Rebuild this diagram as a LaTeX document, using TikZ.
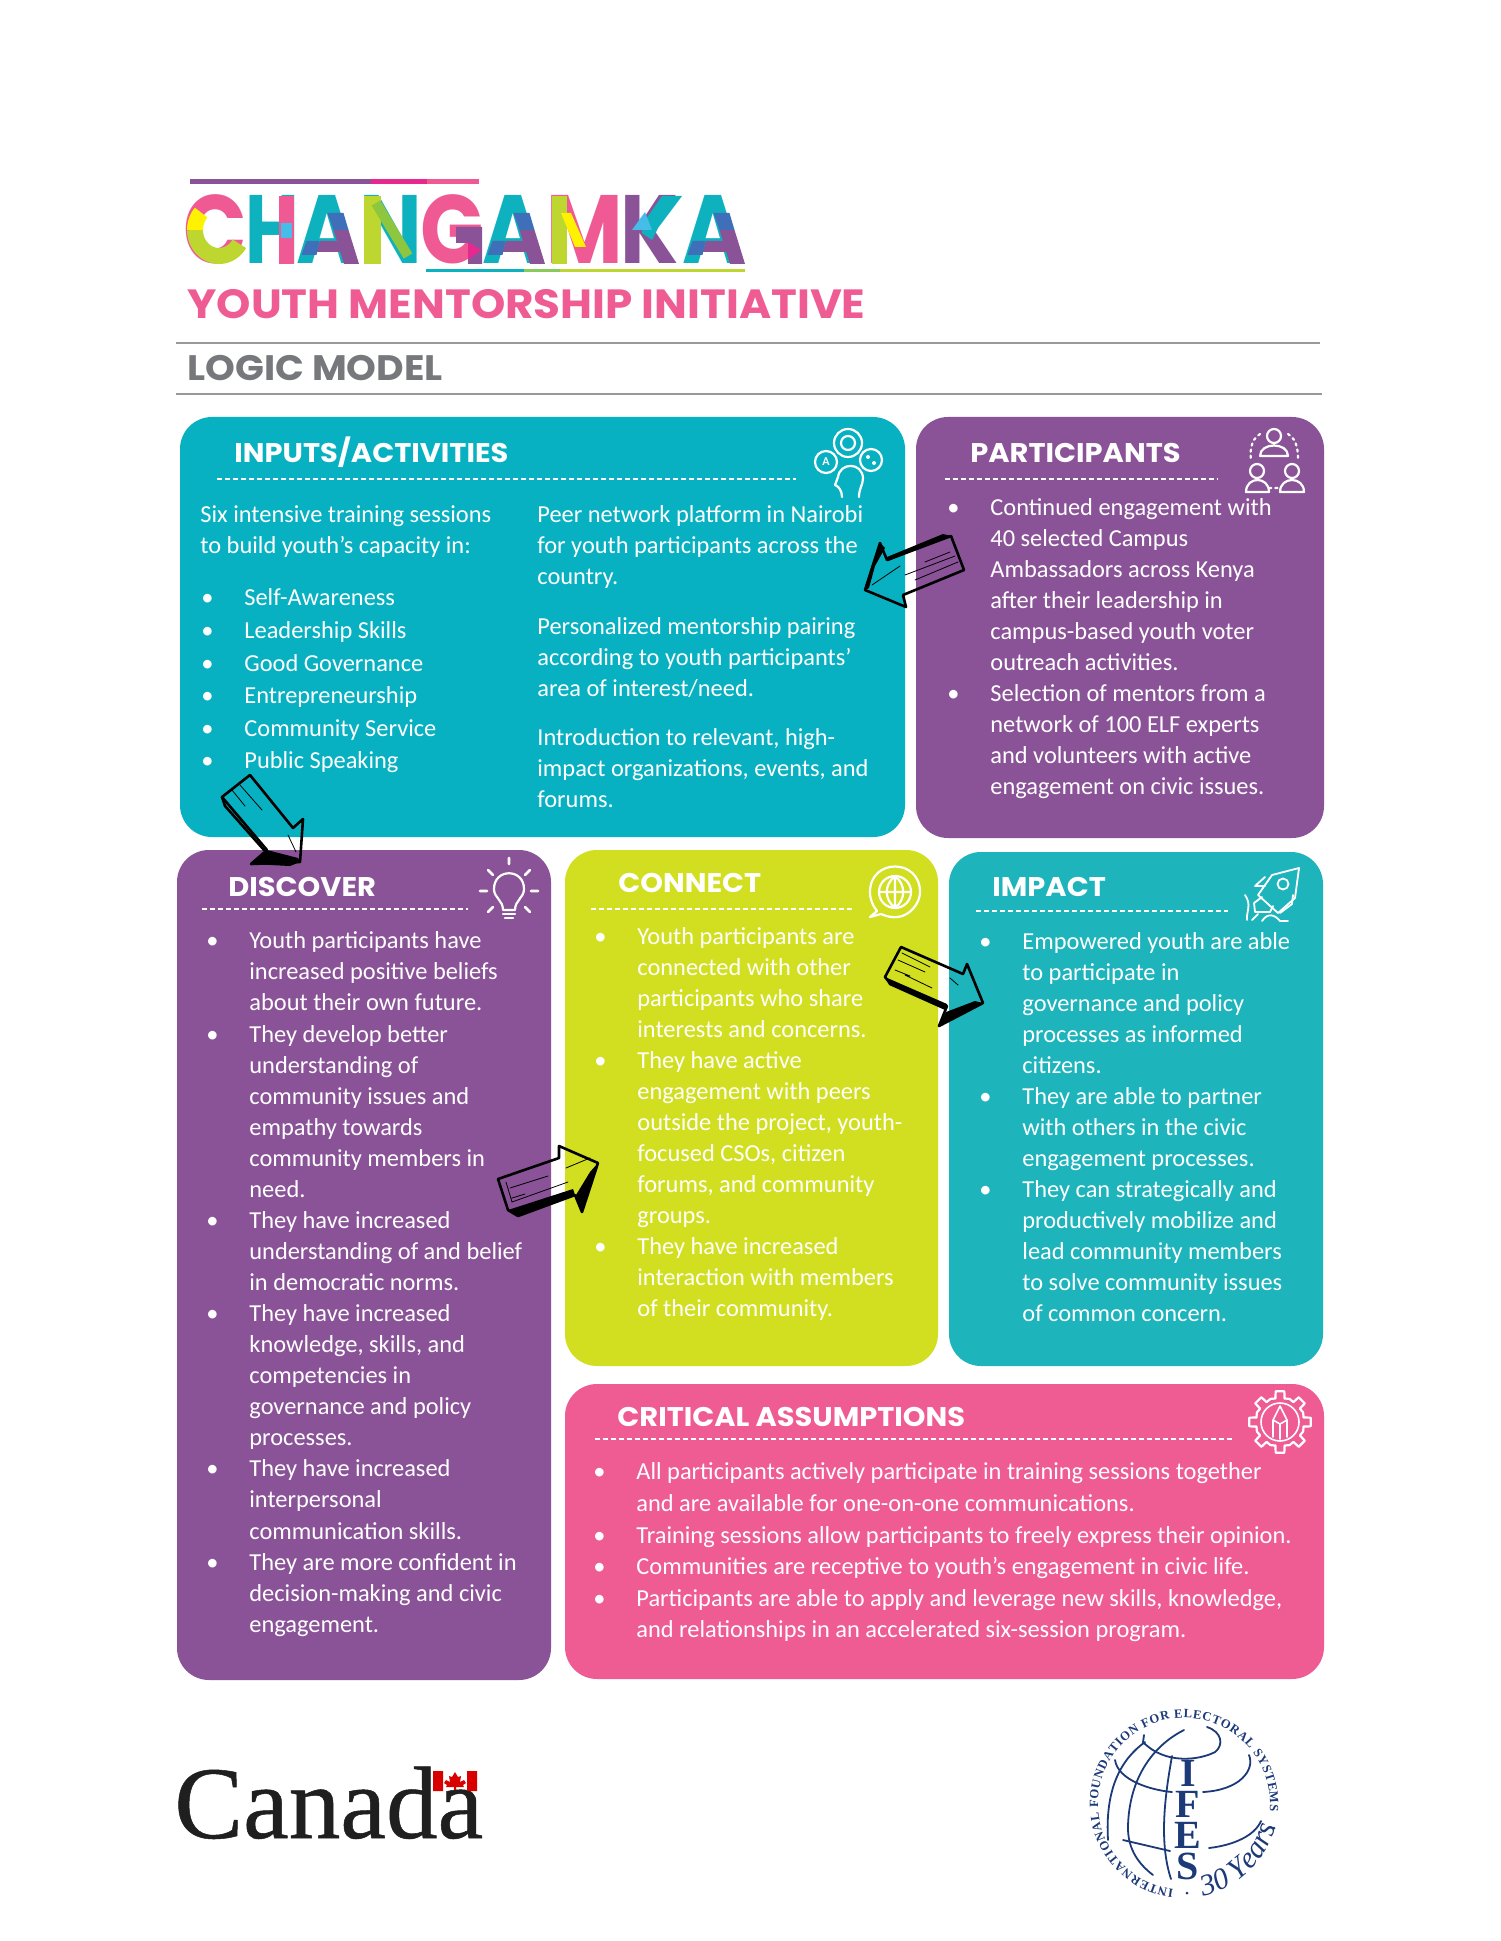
\documentclass[tikz,border=0pt]{standalone}
\usepackage{fontspec}
\usepackage{graphicx}
\usetikzlibrary{decorations.text}
\setmainfont{Carlito}
\newfontfamily\headfont{Poppins}[FakeStretch=1.07]
\newfontfamily\logofont{Poppins}[FakeStretch=0.86]
\newfontfamily\serifring{Liberation Serif}
\newfontfamily\canadafont{Liberation Serif}[FakeBold=0.5]
\definecolor{cteal}{HTML}{08B1C1}
\definecolor{cimpact}{HTML}{1DB4BC}
\definecolor{cpurple}{HTML}{8A5398}
\definecolor{clime}{HTML}{D2DF20}
\definecolor{cpink}{HTML}{EF5B93}
\definecolor{lgpink}{HTML}{EF5A94}
\definecolor{lgteal}{HTML}{0DB2BE}
\definecolor{lglime}{HTML}{BDD630}
\definecolor{lggreen}{HTML}{8EC63F}
\definecolor{lgblue}{HTML}{3F6FB8}
\definecolor{lgsky}{HTML}{45BDE8}
\definecolor{lgmag}{HTML}{E6288F}
\definecolor{lgyel}{HTML}{FFF200}
\definecolor{ifes}{HTML}{1C3A78}
\definecolor{cgrey}{HTML}{77787B}
\newcommand{\bul}{\makebox[0pt][r]{\textbullet\hspace{15.5pt}}}
% colour pieces of a logo A: centre x, right foot x
\newcommand{\logoApiece}[2]{%
  \fill[cpurple] ({#1+5},230) -- ({#1+20},230) -- ({#2-1},264) -- ({#2-16},264) -- ({#1+11.8},252) -- ({#1-11.8},252) -- ({#1-8.4},241) -- ({#1+8.4},241) -- cycle;
  \fill[lgblue] ({#1+5},230) -- ({#1+20},230) -- ({#1+15},213) -- ({#1-1},213) -- cycle;
  \fill[lgblue] ({#1-9},241) -- ({#1-22},241) -- ({#1-27},255) -- ({#1-12},255) -- cycle;}
\tikzset{
  panel/.style={rounded corners=16pt},
  body/.style={anchor=north west,inner sep=0pt,align=left,text=white,font=\fontsize{12.2pt}{15.5pt}\selectfont,execute at begin node={\rule{0pt}{8pt}}},
  title/.style={anchor=base west,inner sep=0pt,text=white,font=\headfont\bfseries\fontsize{13.5pt}{15pt}\selectfont},
  dashrule/.style={white,line width=0.75pt,dash pattern=on 2.6pt off 1.4pt},
  ico/.style={white,line width=1.1pt,line cap=round,line join=round},
  sk/.style={black,line width=1.3pt,line join=round,line cap=round},
  skthin/.style={black,line width=0.4pt,line cap=round},
}
\begin{document}
\begin{tikzpicture}[x=0.5pt,y=-0.5pt]
\useasboundingbox (0,0) rectangle (1500,1941);
\fill[white] (0,0) rectangle (1500,1941);
% ---------- logo
\fill[cpurple] (190,179) rectangle (371,184);
\fill[lgmag] (371,179) rectangle (427,184);
\fill[lgpink] (427,179) rectangle (479,184);
\node[anchor=base west,inner sep=0pt,font=\logofont\bfseries\fontsize{48.5pt}{50pt}\selectfont] (logo) at (183,264)
 {\makebox[31pt][l]{\textcolor{lgpink}{C}}\makebox[25.5pt][l]{\textcolor{lgteal}{\scalebox{0.88}[1]{H}}}\makebox[31.5pt][l]{\textcolor{lgteal}{A}}\makebox[30.5pt][l]{\textcolor{lgteal}{N}}\makebox[31pt][l]{\textcolor{lgpink}{G}}\makebox[32pt][l]{\textcolor{lgteal}{A}}\makebox[37pt][l]{\textcolor{lgpink}{M}}\makebox[31pt][l]{\textcolor{cpurple}{K}}\textcolor{lgteal}{A}};
% C
\draw[lglime,line width=8pt] plot[domain=32:180,samples=30] ({219+24*cos(\x)},{230+26*sin(\x)});
\draw[lgyel,line width=8pt] plot[domain=180:222,samples=12] ({219+24*cos(\x)},{230+26*sin(\x)});
% H
\fill[lgpink] (279,196) rectangle (294,264);
\fill[lgsky] (281,223) rectangle (292,238);
% A pieces
\logoApiece{328.5}{360}
\logoApiece{514.5}{546}
\logoApiece{714.5}{746}
% N
\fill[lglime] (364,196) rectangle (381,264);
\draw[lggreen,line width=5pt] (376,203) -- (408,256);
% G
\fill[cpurple] (456,227) -- (482,227) -- (482,264) -- (468,264) -- (468,243) -- (456,243) -- cycle;
\fill[lgmag] (468,242) -- (481,250) -- (468,260) -- cycle;
% M
\fill[lglime] (552,196) rectangle (567,264);
\fill[lgyel] (561,213) -- (571,213) -- (586,247) -- (575,247) -- cycle;
% K
\fill[lgteal] (642,233) -- (642,225) -- (662,196) -- (682,196) -- (658,228) -- (652,240) -- cycle;
\fill[lgsky] (632,230) -- (645,212) -- (652,230) -- cycle;
\fill[lgteal] (426,269.5) rectangle (524,272);
\fill[lglime!70!lgteal] (524,269.5) rectangle (560,272);
\fill[lglime] (560,269.5) rectangle (745,272);
% ---------- headings
\node[anchor=base west,inner sep=0pt,text=cpink,font=\headfont\bfseries\fontsize{20.4pt}{22pt}\selectfont] (sub) at (187,319) {YOUTH MENTORSHIP INITIATIVE};
\node[anchor=base west,inner sep=0pt,text=cgrey,font=\headfont\bfseries\fontsize{17.7pt}{20pt}\selectfont] (lm) at (187,381) {LOGIC MODEL};
\draw[black!40,line width=1pt] (176,343) -- (1320,343);
\draw[black!40,line width=1pt] (176,394) -- (1322,394);
% ---------- panels
\fill[panel,cteal] (180,417) rectangle (905,837);
\fill[panel,cpurple] (916,417) rectangle (1324,838);
\fill[panel,cpurple] (177,850) rectangle (551,1680);
\fill[panel,clime] (565,850) rectangle (938,1366);
\fill[panel,cimpact] (949,852) rectangle (1323,1366);
\fill[panel,cpink] (565,1384) rectangle (1324,1679);
% ---------- titles
\node[title] (t1) at (234,463) {INPUTS/ACTIVITIES};
\node[title] (t2) at (970,462) {PARTICIPANTS};
\node[title] (t3) at (228,896) {DISCOVER};
\node[title] (t4) at (618,892) {CONNECT};
\node[title] (t5) at (992,896) {IMPACT};
\node[title] (t6) at (617,1426) {CRITICAL ASSUMPTIONS};
\draw[dashrule] (217,479) -- (796,479);
\draw[dashrule] (945,479) -- (1218,479);
\draw[dashrule] (202,909) -- (468,909);
\draw[dashrule] (591,909) -- (854,909);
\draw[dashrule] (976,911) -- (1228,911);
\draw[dashrule] (595,1439) -- (1233,1439);
% ---------- body text
\node[body] (in1) at (200,505.5) {Six intensive training sessions\\to build youth’s capacity in:};
\node[body,font=\fontsize{12.2pt}{16.3pt}\selectfont] (in2) at (244,588.5) {\bul Self-Awareness\\\bul Leadership Skills\\\bul Good Governance\\\bul Entrepreneurship\\\bul Community Service\\\bul Public Speaking};
\node[body] (in3) at (537,505.5) {Peer network platform in Nairobi\\for youth participants across the\\country.};
\node[body] (in4) at (537,617.5) {Personalized mentorship pairing\\according to youth participants’\\area of interest/need.};
\node[body] (in5) at (537,728.5) {Introduction to relevant, high-\\impact organizations, events, and\\forums.};
\node[body] (pa) at (990,498) {\bul Continued engagement with\\40 selected Campus\\Ambassadors across Kenya\\after their leadership in\\campus-based youth voter\\outreach activities.\\\bul Selection of mentors from a\\network of 100 ELF experts\\and volunteers with active\\engagement on civic issues.};
\node[body,font=\fontsize{12.2pt}{15.53pt}\selectfont] (di) at (249,931.5) {\bul Youth participants have\\increased positive beliefs\\about their own future.\\\bul They develop better\\understanding of\\community issues and\\empathy towards\\community members in\\need.\\\bul They have increased\\understanding of and belief\\in democratic norms.\\\bul They have increased\\knowledge, skills, and\\competencies in\\governance and policy\\processes.\\\bul They have increased\\interpersonal\\communication skills.\\\bul They are more confident in\\decision-making and civic\\engagement.};
\node[body] (co) at (637,927.5) {\bul Youth participants are\\connected with other\\participants who share\\interests and concerns.\\\bul They have active\\engagement with peers\\outside the project, youth-\\focused CSOs, citizen\\forums, and community\\groups.\\\bul They have increased\\interaction with members\\of their community.};
\node[body] (im) at (1022,932.5) {\bul Empowered youth are able\\to participate in\\governance and policy\\processes as informed\\citizens.\\\bul They are able to partner\\with others in the civic\\engagement processes.\\\bul They can strategically and\\productively mobilize and\\lead community members\\to solve community issues\\of common concern.};
\node[body,font=\fontsize{12.2pt}{15.8pt}\selectfont] (cr) at (636,1462.5) {\bul All participants actively participate in training sessions together\\and are available for one-on-one communications.\\\bul Training sessions allow participants to freely express their opinion.\\\bul Communities are receptive to youth’s engagement in civic life.\\\bul Participants are able to apply and leverage new skills, knowledge,\\and relationships in an accelerated six-session program.};
% ---------- arrow Participants to Inputs
\draw[sk] (887,560) -- (951,536) -- (964,570) -- (903,595) -- (906,607) -- (865,590) -- (880,543) -- cycle;
\fill[black] (880,543) -- (872,565) -- (865,590) -- (869,588) -- (875,566) -- (885,548) -- cycle;
\fill[black] (887,557) -- (943,534) -- (951,536) -- (888,561) -- cycle;
\draw[skthin] (905,575) -- (955,556) (915,580) -- (958,562) (925,562) -- (950,552) (872,585) -- (900,566);
% ---------- arrow Inputs to Discover
\draw[sk] (250,775) -- (222,797) -- (267,850) -- (251,864) -- (300,862) -- (303,819) -- (293,828) -- cycle;
\fill[black] (267,850) -- (298,858) -- (300,862) -- (290,866) -- (251,864) -- cycle;
\draw[sk] (222,797) -- (225,806) -- (264,850);
\draw[skthin] (232,790) -- (245,806) (240,785) -- (262,810) (262,790) -- (285,818) (288,835) -- (296,852);
% ---------- arrow Discover to Connect
\draw[sk] (498,1179) -- (559,1158) -- (559,1146) -- (598,1163) -- (582,1212) -- (575,1195) -- (518,1216) -- (508,1210) -- cycle;
\fill[black] (508,1210) -- (518,1216) -- (575,1195) -- (573,1189) -- cycle;
\fill[black] (598,1163) -- (582,1212) -- (576,1195) -- (590,1172) -- cycle;
\draw[skthin] (506,1182) -- (512,1202) -- (568,1182) (510,1188) -- (548,1176) (512,1198) -- (525,1194) (566,1168) -- (590,1158);
% ---------- arrow Connect to Impact
\draw[sk] (901,947) -- (963,974) -- (967,964) -- (983,1003) -- (939,1026) -- (947,1006) -- (889,982) -- (885,977) -- cycle;
\fill[black] (885,977) -- (889,985) -- (945,1010) -- (947,1004) -- cycle;
\fill[black] (983,1003) -- (939,1026) -- (946,1012) -- (975,1001) -- cycle;
\draw[skthin] (902,953) -- (930,967) (898,960) -- (925,972) (895,970) -- (910,976) (950,978) -- (958,985) (905,975) -- (932,988);
% ---------- icon: head and bubbles
\draw[ico] (848,443) circle (14) (848,443) circle (7);
\draw[ico] (826,462) circle (11) (871,460) circle (11);
\draw[ico] (842,497) .. controls (842,490) and (838,486) .. (835,485) -- (838,477) .. controls (840,462) and (862,462) .. (863,478) .. controls (863,485) and (859,488) .. (859,497);
\node[inner sep=0pt,text=white,font=\bfseries\fontsize{6pt}{6pt}\selectfont] (iA) at (826,462) {A};
\fill[white] (868,457) circle (2) (874,463) circle (2);
% ---------- icon: people
\begin{scope}[shift={(0,-2)}]
\draw[ico] (1274,438) circle (7) (1260,458) .. controls (1260,444) and (1288,444) .. (1288,458) -- cycle;
\draw[ico] (1257,473) circle (7) (1246,494) .. controls (1246,478) and (1269,478) .. (1269,494) -- cycle;
\draw[ico] (1292,473) circle (7) (1280,494) .. controls (1280,478) and (1304,478) .. (1304,494) -- cycle;
\draw[ico,dotted] (1260,436) .. controls (1250,442) and (1250,455) .. (1251,463) (1288,436) .. controls (1298,442) and (1298,455) .. (1298,463) (1269,490) -- (1280,490);
\end{scope}
% ---------- icon: bulb
\draw[ico] (503,910) .. controls (503,900) and (494,898) .. (494,889) .. controls (494,868) and (524,868) .. (524,889) .. controls (524,898) and (515,900) .. (515,910) -- cycle;
\draw[ico] (503,914) -- (515,914) (505,918) -- (513,918);
\draw[ico,line width=1.4pt] (509,864) -- (509,858) (487,891) -- (480,891) (531,891) -- (538,891) (493,875) -- (488,870) (525,875) -- (530,870) (493,907) -- (488,912) (525,907) -- (530,912);
% ---------- icon: globe bubble
\draw[ico] (895,892) circle (16);
\draw[ico] (879,892) -- (911,892) (895,876) .. controls (884,885) and (884,899) .. (895,908) (895,876) .. controls (906,885) and (906,899) .. (895,908) (895,876) -- (895,908);
\draw[ico] (877,911) -- (870,917) -- (881,914) .. controls (905,925) and (920,905) .. (920,892) .. controls (920,858) and (870,858) .. (870,892) .. controls (870,900) and (873,906) .. (877,911);
% ---------- icon: rocket
\draw[ico,line width=0.9pt] (1299,868) -- (1272,875) -- (1258,895) -- (1278,913) -- (1295,898) -- cycle;
\draw[ico,line width=0.9pt] (1265,877) -- (1255,886) -- (1265,886) (1293,895) -- (1292,904) -- (1280,913);
\draw[ico,line width=0.9pt] (1283,884) circle (5.5);
\draw[ico,line width=0.9pt] (1262,897) -- (1254,903) -- (1255,912) -- (1270,912) -- (1273,906);
\draw[ico,line width=0.9pt] (1245,895) .. controls (1252,905) and (1246,912) .. (1247,920) (1262,921) .. controls (1268,912) and (1275,915) .. (1280,921) -- (1288,921);
\draw[ico,line width=0.9pt] (1252,920) -- (1258,914);
% ---------- icon: gear
\begin{scope}[shift={(1280,1422)},y=0.5pt]
\foreach \a in {0,45,...,315}{
  \draw[ico] ({\a-11}:24) -- ({\a-8}:31) -- ({\a+8}:31) -- ({\a+11}:24) -- ({\a+22.5}:25) -- ({\a+34}:24);
}
\draw[ico,line width=0.8pt] (0,0) circle (19);
\draw[ico,line width=0.8pt] (-7,-15) -- (-7,2) -- (0,16) -- (7,2) -- (7,-15) (-7,2) -- (0,-2) -- (7,2) (0,-2) -- (0,-17);
\end{scope}
% ---------- Canada
\node[anchor=base west,inner sep=0pt,text=black!88,font=\canadafont\fontsize{51.5pt}{54pt}\selectfont] (ca) at (174,1838) {Canada};
\fill[red!85!black] (433,1771) rectangle (443,1791) (467,1771) rectangle (477,1791);
\fill[red!85!black] (455,1772) -- (458,1777) -- (461,1776) -- (460,1782) -- (464,1780) -- (466,1783) -- (463,1785) -- (464,1787) -- (456,1787) -- (456,1790) -- (454,1790) -- (454,1787) -- (446,1787) -- (447,1785) -- (444,1783) -- (446,1780) -- (450,1782) -- (449,1776) -- (452,1777) -- cycle;
% ---------- IFES
\begin{scope}[ifes,line width=0.9pt,line cap=round]
\draw (1207,1727) .. controls (1222,1732) and (1224,1745) .. (1215,1752) .. controls (1200,1760) and (1165,1765) .. (1143,1742) -- (1144,1735);
\draw (1184,1730) .. controls (1160,1742) and (1130,1770) .. (1128,1825) .. controls (1127,1850) and (1140,1865) .. (1153,1875);
\draw (1172,1756) .. controls (1166,1790) and (1158,1840) .. (1171,1879);
\draw (1145,1742) .. controls (1120,1760) and (1105,1790) .. (1108,1840);
\draw (1115,1760) .. controls (1118,1780) and (1150,1790) .. (1172,1792);
\draw (1203,1792) .. controls (1240,1790) and (1255,1770) .. (1249,1755);
\draw (1123,1840) -- (1170,1851);
\draw (1209,1848) .. controls (1235,1845) and (1255,1835) .. (1261,1821);
\end{scope}
\node[inner sep=0pt,align=center,text=ifes,font=\serifring\bfseries\fontsize{20pt}{15.6pt}\selectfont] (ifesl) at (1188,1820) {I\\F\\E\\S};
\begin{scope}[shift={(1184,1804)},y=0.5pt]
\path[decorate,decoration={text along path,text align={fit to path},text={|\serifring\bfseries\fontsize{6.3pt}{8pt}\selectfont\color{ifes}|INTERNATIONAL FOUNDATION FOR ELECTORAL SYSTEMS}}] (-97:43pt) arc[start angle=-97,end angle=-365,radius=43pt];
\path[decorate,decoration={text along path,text={|\serifring\itshape\fontsize{15pt}{16pt}\selectfont\color{ifes}|30 Years}}] (-78:47pt) arc[start angle=-78,end angle=-8,radius=47pt];
\fill[ifes] (3,-89) circle (1.5) (90,-24) circle (1.5);
\end{scope}
\end{tikzpicture}
\end{document}
